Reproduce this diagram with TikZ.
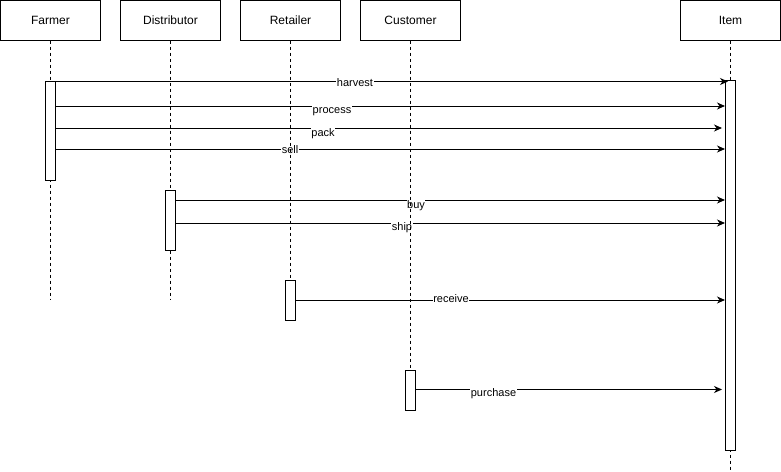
\documentclass[tikz,border=0pt]{standalone}
\usepackage{fontspec}
\setmainfont{Liberation Sans}
\usetikzlibrary{arrows.meta}
\begin{document}
\begin{tikzpicture}[x=1pt,y=-1pt,
  lifebox/.style={draw, line width=1pt, minimum width=100pt, minimum height=40pt,
    inner sep=0pt, outer sep=0pt, font=\fontsize{12}{14}\selectfont, anchor=north west},
  lifeline/.style={line width=1pt, dash pattern=on 3pt off 3pt},
  actbox/.style={draw, fill=white, line width=1pt, minimum width=10pt,
    inner sep=0pt, outer sep=0pt, anchor=north},
  msg/.style={line width=1pt, -{Stealth[length=8pt,width=7pt,inset=2.5pt]}},
  msglabel/.style={fill=white, inner sep=0.5pt, anchor=base,
    text height=8pt, text depth=2pt, font=\fontsize{11}{13}\selectfont}]
\useasboundingbox (0,0) rectangle (781,471);

% participant headers
\node[lifebox] (farmer) at (0.5,0.5) {Farmer};
\node[lifebox] (distributor) at (120.5,0.5) {Distributor};
\node[lifebox] (retailer) at (240.5,0.5) {Retailer};
\node[lifebox] (customer) at (360.5,0.5) {Customer};
\node[lifebox] (item) at (680.5,0.5) {Item};

% lifeline ends
\coordinate (farmerEnd) at (50.5,300);
\coordinate (distributorEnd) at (170.5,300);
\coordinate (retailerEnd) at (290.5,280);
\coordinate (customerEnd) at (410.5,370);
\coordinate (itemEnd) at (730.5,471);

% Item lifeline and its bar sit under the arrow tips
\draw[lifeline] (item.south) -- (itemEnd);
\node[actbox, minimum height=370pt] (itemAct) at (730.5,80) {};

% message end points on the Item bar
\coordinate (harvestEnd) at (728,81.5);
\coordinate (processEnd) at (725,106);
\coordinate (packEnd) at (722,128);
\coordinate (sellEnd) at (725,149);
\coordinate (buyEnd) at (725,200);
\coordinate (shipEnd) at (725,223);
\coordinate (receiveEnd) at (725,300);
\coordinate (purchaseEnd) at (722,389.5);

% message start points on the senders' bars
\coordinate (harvestStart) at (55.5,81.5);
\coordinate (processStart) at (55.5,106);
\coordinate (packStart) at (55.5,128);
\coordinate (sellStart) at (55.5,149);
\coordinate (buyStart) at (175.5,200);
\coordinate (shipStart) at (175.5,223);
\coordinate (receiveStart) at (295.5,300);
\coordinate (purchaseStart) at (415.5,389.5);

% messages
\draw[msg] (harvestStart) -- (harvestEnd);
\draw[msg] (processStart) -- (processEnd);
\draw[msg] (packStart) -- (packEnd);
\draw[msg] (sellStart) -- (sellEnd);
\draw[msg] (buyStart) -- (buyEnd);
\draw[msg] (shipStart) -- (shipEnd);
\draw[msg] (receiveStart) -- (receiveEnd);
\draw[msg] (purchaseStart) -- (purchaseEnd);

% message labels, placed by their baselines
\node[msglabel] (harvestLbl) at (355,86) {harvest};
\node[msglabel] (processLbl) at (332,113) {process};
\node[msglabel] (packLbl) at (323,136) {pack};
\node[msglabel] (sellLbl) at (290,153) {sell};
\node[msglabel] (buyLbl) at (416,208) {buy};
\node[msglabel] (shipLbl) at (402,230) {ship};
\node[msglabel] (receiveLbl) at (451,302) {receive};
\node[msglabel] (purchaseLbl) at (493.5,396) {purchase};

% the other lifelines run over the labels
\draw[lifeline] (farmer.south) -- (farmerEnd);
\draw[lifeline] (distributor.south) -- (distributorEnd);
\draw[lifeline] (retailer.south) -- (retailerEnd);
\draw[lifeline] (customer.south) -- (customerEnd);

% activation bars of the senders
\node[actbox, minimum height=99pt] (farmerAct) at (50.5,81) {};
\node[actbox, minimum height=60pt] (distributorAct) at (170.5,190) {};
\node[actbox, minimum height=40pt] (retailerAct) at (290.5,280.5) {};
\node[actbox, minimum height=40pt] (customerAct) at (410.5,370.5) {};
\end{tikzpicture}
\end{document}
